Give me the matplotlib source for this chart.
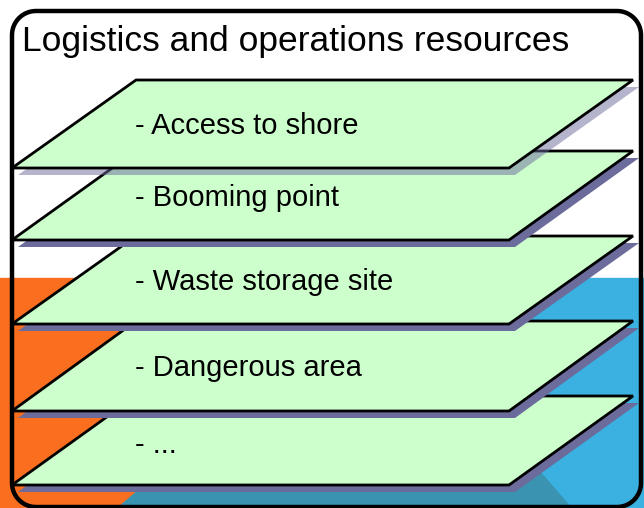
import matplotlib
matplotlib.use("Agg")
import matplotlib.pyplot as plt
import numpy as np
from matplotlib.patches import Polygon, Rectangle

title = "Logistics and operations resources"
labels = ["- Access to shore", "- Booming point", "- Waste storage site",
          "- Dangerous area", "- ..."]
# top / bottom edge of each layer (pixels from the top)
layer_top = [80, 151, 236, 321, 396]
layer_bottom = [168, 240, 324, 411, 485]
label_y = [126, 198, 282, 368, 445]

W, H = 644, 508
fig = plt.figure(figsize=(W / 100, H / 100), dpi=100)
ax = fig.add_axes([0, 0, 1, 1])
ax.set_xlim(0, W)
ax.set_ylim(H, 0)
ax.axis("off")

# background pieces of the slide
ax.add_patch(Rectangle((0, 278), 322, 230, color="#F96E1F", zorder=0))
ax.add_patch(Rectangle((322, 278), 322, 230, color="#3AB1E0", zorder=0))
ax.add_patch(Polygon([(118, 508), (160, 472), (540, 472), (571, 508)],
                     closed=True, color="#3A93B1", zorder=0))

green = "#CCFFCC"
shadow = "#6B6B9C"
left, right, slant = 12, 633, 124
font = ["Liberation Sans", "DejaVu Sans"]

# draw from bottom layer to top layer so upper ones overlap
for i in reversed(range(len(labels))):
    t, b = layer_top[i], layer_bottom[i]
    pts = [(left + slant, t), (right, t), (right - slant, b), (left, b)]
    sh = [(x + 6, y + 7) for x, y in pts]
    ax.add_patch(Polygon(sh, closed=True, facecolor=shadow, edgecolor="none",
                         alpha=0.5 if i == 0 else 1.0, zorder=2 + 2 * (5 - i)))
    ax.add_patch(Polygon(pts, closed=True, facecolor=green, edgecolor="black",
                         linewidth=2.0, joinstyle="miter",
                         zorder=3 + 2 * (5 - i)))
    ax.text(135, label_y[i], labels[i], fontsize=21, va="center", ha="left",
            family=font, zorder=3 + 2 * (5 - i))


# rounded frame, built by hand so the inverted y axis doesn't bother it
def rounded_rect(x0, y0, x1, y1, r):
    pts = []
    corners = [(x1 - r, y0 + r, -90, 0), (x1 - r, y1 - r, 0, 90),
               (x0 + r, y1 - r, 90, 180), (x0 + r, y0 + r, 180, 270)]
    for cx, cy, a0, a1 in corners:
        a = np.radians(np.linspace(a0, a1, 20))
        pts += list(zip(cx + r * np.cos(a), cy + r * np.sin(a)))
    return pts


ax.add_patch(Polygon(rounded_rect(12, 11, 641, 507, 24), closed=True,
                     facecolor="none", edgecolor="black", linewidth=3.2,
                     zorder=30))

ax.text(22, 42, title, fontsize=25.5, va="center", ha="left",
        family=font, zorder=31)

fig.savefig("out.png", dpi=100)
